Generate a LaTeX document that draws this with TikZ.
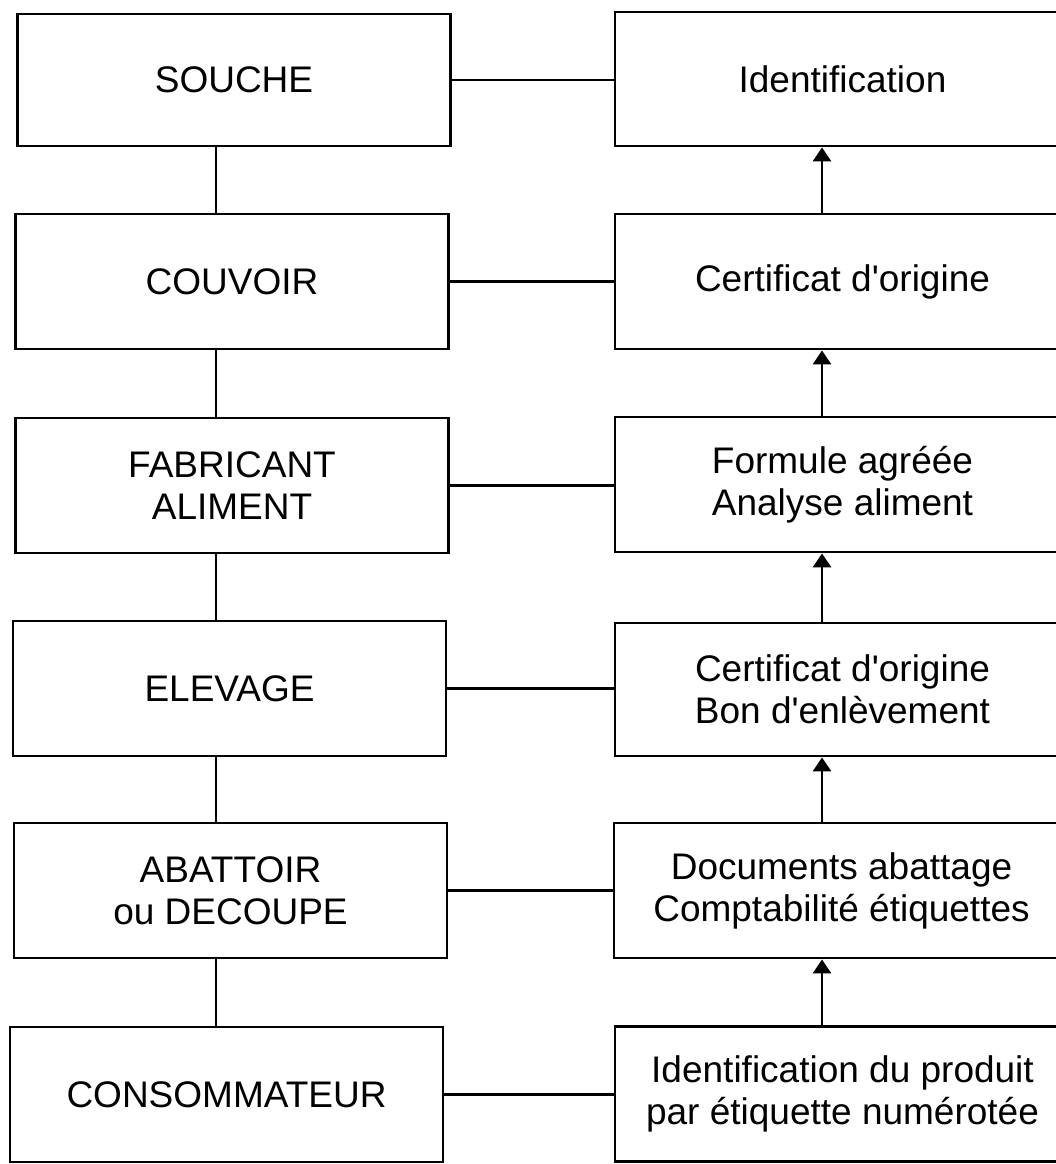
\documentclass[tikz,border=0pt]{standalone}
\usepackage{fontspec}
\setmainfont{Liberation Sans}
\usetikzlibrary{arrows.meta}
\newcommand{\apos}{\textquotesingle}
\begin{document}
\begin{tikzpicture}[x=1pt,y=-1pt,
  box/.style={draw, line width=2.8pt, align=center, inner sep=0pt,
    font=\fontsize{37}{42}\selectfont},
  lbox/.style={box, minimum width=433pt, minimum height=135pt},
  rbox/.style={box, minimum width=455pt, minimum height=135pt},
  link/.style={line width=2.2pt},
  up/.style={line width=2.8pt, -{Triangle[width=18pt,length=14pt]}}]
\useasboundingbox (0,0) rectangle (1056,1164);
\clip (0,0) rectangle (1056,1164);
% left column
\node[lbox, minimum height=132pt] (l1) at (234,80) {SOUCHE};
\node[lbox] (l2) at (232,281.5) {COUVOIR};
\node[lbox] (l3) at (232,485.5) {FABRICANT\\ALIMENT};
\node[lbox] (l4) at (229.5,688.5) {ELEVAGE};
\node[lbox] (l5) at (230.5,890.5) {ABATTOIR\\ou DECOUPE};
\node[lbox] (l6) at (226.5,1094.5) {CONSOMMATEUR};
% right column
\node[rbox, minimum height=134pt] (r1) at (842.5,79) {Identification};
\node[rbox] (r2) at (842.5,281.5) {Certificat d\apos origine};
\node[rbox] (r3) at (842.5,484.5) {Formule agréée\\Analyse aliment};
\node[rbox, minimum height=133pt] (r4) at (842.5,689.5) {Certificat d\apos origine\\Bon d\apos enlèvement};
\node[rbox] (r5) at (841.5,890.5) {Documents abattage\\Comptabilité étiquettes};
\node[rbox] (r6) at (842.5,1094) {Identification du produit\\par étiquette numérotée};
% vertical link positions
\coordinate (lx) at (216,0);
\coordinate (ax) at (822,0);
% left vertical links
\draw[link] (l1.south -| lx) -- (l2.north -| lx);
\draw[link] (l2.south -| lx) -- (l3.north -| lx);
\draw[link] (l3.south -| lx) -- (l4.north -| lx);
\draw[link] (l4.south -| lx) -- (l5.north -| lx);
\draw[link] (l5.south -| lx) -- (l6.north -| lx);
% horizontal links
\draw[link] (l1.east) -- (l1.east -| r1.west);
\draw[link] (l2.east) -- (l2.east -| r2.west);
\draw[link] (l3.east) -- (l3.east -| r3.west);
\draw[link] (l4.east) -- (l4.east -| r4.west);
\draw[link] (l5.east) -- (l5.east -| r5.west);
\draw[link] (l6.east) -- (l6.east -| r6.west);
% right arrows upward
\draw[up] (r2.north -| ax) -- (r1.south -| ax);
\draw[up] (r3.north -| ax) -- (r2.south -| ax);
\draw[up] (r4.north -| ax) -- (r3.south -| ax);
\draw[up] (r5.north -| ax) -- (r4.south -| ax);
\draw[up] (r6.north -| ax) -- (r5.south -| ax);
\end{tikzpicture}
\end{document}
